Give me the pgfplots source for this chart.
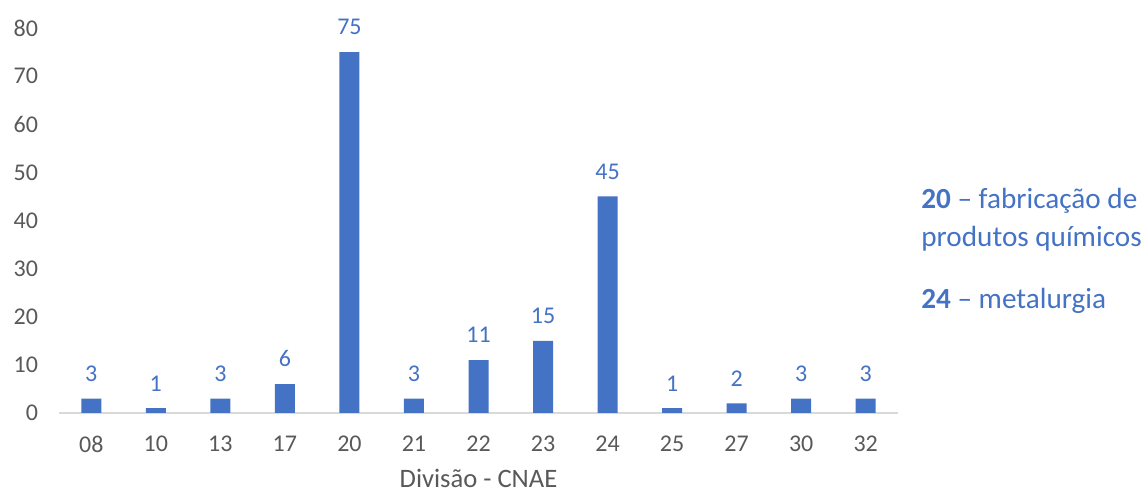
\documentclass[border=0pt]{standalone}
\usepackage{pgfplots}
\pgfplotsset{compat=1.18}
\usepackage{fontspec}
\setmainfont{Carlito}
\definecolor{barblue}{HTML}{4472C4}
\definecolor{ticktext}{HTML}{595959}
\definecolor{axisgray}{HTML}{D9D9D9}
\begin{document}
\begin{tikzpicture}[x=1pt,y=1pt]
\path[use as bounding box] (0,0) rectangle (574,246);
\begin{axis}[
  at={(29.5pt,39.5pt)}, anchor=south west,
  scale only axis, width=419.5pt, height=192.5pt,
  xmin=-0.5, xmax=12.5, ymin=0, ymax=80,
  ytick={0,10,...,80},
  xtick={0,...,12},
  xticklabels={08,10,13,17,20,21,22,23,24,25,27,30,32},
  axis x line*=bottom, axis y line*=left,
  x axis line style={draw=axisgray, line width=1pt, -},
  y axis line style={draw=none},
  major tick length=0pt,
  /pgf/number format/assume math mode=true,
  tick label style={font=\fontsize{12}{14}\selectfont, text=ticktext},
  yticklabel style={xshift=-7pt},
  xticklabel style={yshift=-8pt},
  xlabel={Divisão - CNAE},
  xlabel style={at={(axis description cs:0.5,0)}, anchor=base, yshift=-37.3pt,
    inner sep=0pt, font=\fontsize{13.3}{15}\selectfont, text=ticktext},
  clip=false,
  ybar, bar width=10pt,
  nodes near coords,
  every node near coord/.append style={font=\fontsize{12}{14}\selectfont, text=barblue, yshift=5pt},
]
\addplot[fill=barblue, draw=none] coordinates {
  (0,3) (1,1) (2,3) (3,6) (4,75) (5,3) (6,11) (7,15) (8,45) (9,1) (10,2) (11,3) (12,3)
};
\end{axis}
\begin{scope}[every node/.style={anchor=base west, inner sep=0pt, text=barblue, font=\fontsize{14.6}{19}\selectfont}]
\node at (460.5,141.5) {\textbf{20} – fabricação de};
\node at (460.5,122.5) {produtos químicos};
\node at (460.5,91.5) {\textbf{24} – metalurgia};
\end{scope}
\end{tikzpicture}
\end{document}
